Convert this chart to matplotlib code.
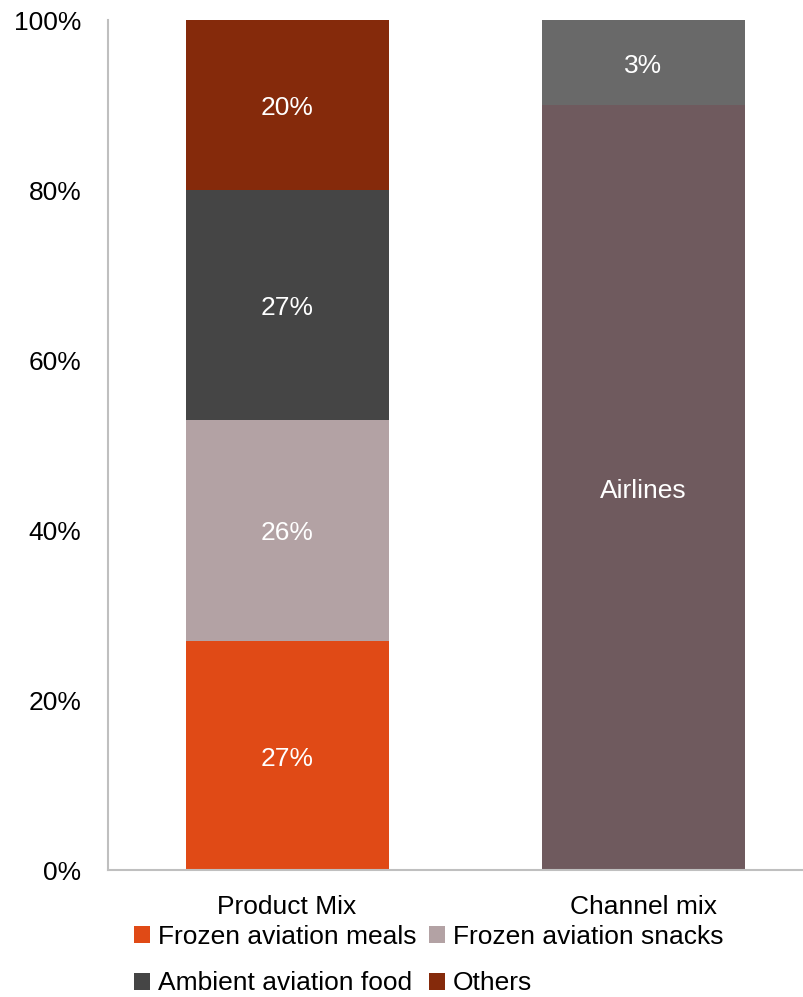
import matplotlib
matplotlib.use("Agg")
import matplotlib.pyplot as plt
from matplotlib.patches import Patch
import numpy as np

plt.rcParams['font.family'] = ['Liberation Sans', 'DejaVu Sans']

categories = ["Product Mix", "Channel mix"]

# Product mix segments (bottom to top)
product_names = ["Frozen aviation meals", "Frozen aviation snacks", "Ambient aviation food", "Others"]
product_values = [27, 26, 27, 20]
product_labels = ["27%", "26%", "27%", "20%"]
product_colors = ["#E04A16", "#B3A2A4", "#454545", "#852A0B"]

# Channel mix segments (bottom to top)
channel_values = [90, 10]
channel_labels = ["Airlines", "3%"]
channel_colors = ["#6F5A5E", "#696969"]

yticks = [0, 20, 40, 60, 80, 100]
ytick_labels = ["0%", "20%", "40%", "60%", "80%", "100%"]

fig = plt.figure(figsize=(8.04, 9.97), dpi=100)
ax = fig.add_axes([108/804, 1-870/997, 1-108/804, 850/997])

x = np.arange(len(categories))
width = 0.57
fs = 19

bottom = 0
for v, lab, c in zip(product_values, product_labels, product_colors):
    ax.bar(x[0], v, width, bottom=bottom, color=c)
    ax.text(x[0], bottom + v/2 - 0.4, lab, ha='center', va='center', color='white', fontsize=fs)
    bottom += v

bottom = 0
for v, lab, c in zip(channel_values, channel_labels, channel_colors):
    ax.bar(x[1], v, width, bottom=bottom, color=c)
    ax.text(x[1], bottom + v/2 - 0.4, lab, ha='center', va='center', color='white', fontsize=fs)
    bottom += v

ax.set_xlim(-0.503, 1.452)
ax.set_ylim(0, 100)
ax.set_yticks(yticks)
ax.set_yticklabels(ytick_labels, fontsize=fs)
ax.set_xticks(x)
ax.set_xticklabels(categories, fontsize=fs)
ax.tick_params(axis='x', length=0, pad=18)
ax.tick_params(axis='y', length=0, pad=19)
for s in ['top', 'right']:
    ax.spines[s].set_visible(False)
for s in ['left', 'bottom']:
    ax.spines[s].set_color('#BFBFBF')
    ax.spines[s].set_linewidth(1.5)

# legend filled row by row: (meals, snacks) / (ambient, others)
order = [0, 2, 1, 3]
handles = [Patch(facecolor=product_colors[i]) for i in order]
names = [product_names[i] for i in order]
fig.legend(handles, names, loc='upper left', bbox_to_anchor=(134/804, 1-925/997),
           ncol=2, frameon=False, fontsize=fs, handlelength=0.6, handleheight=0.6,
           handletextpad=0.3, columnspacing=0.5, labelspacing=0.85, borderaxespad=0, borderpad=0)

fig.savefig("out.png", dpi=100)
